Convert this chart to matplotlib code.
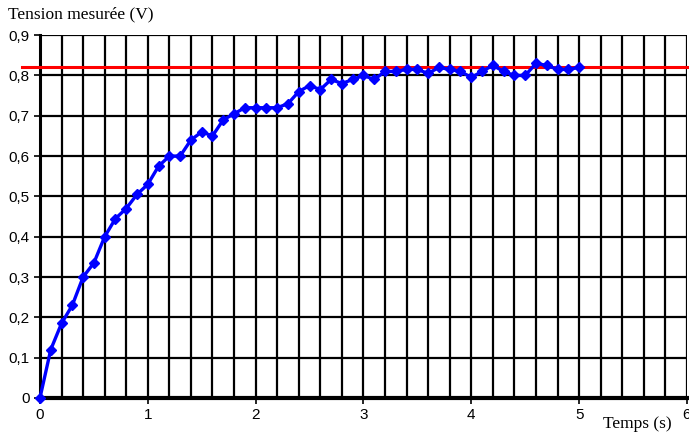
import numpy as np
import matplotlib.pyplot as plt
from matplotlib.ticker import MultipleLocator, FuncFormatter

# Mesures : tension en fonction du temps
temps = [0.0, 0.1, 0.2, 0.3, 0.4, 0.5, 0.6, 0.7, 0.8, 0.9,
         1.0, 1.1, 1.2, 1.3, 1.4, 1.5, 1.6, 1.7, 1.8, 1.9,
         2.0, 2.1, 2.2, 2.3, 2.4, 2.5, 2.6, 2.7, 2.8, 2.9,
         3.0, 3.1, 3.2, 3.3, 3.4, 3.5, 3.6, 3.7, 3.8, 3.9,
         4.0, 4.1, 4.2, 4.3, 4.4, 4.5, 4.6, 4.7, 4.8, 4.9, 5.0]
tension = [0.0, 0.12, 0.185, 0.23, 0.30, 0.335, 0.40, 0.445, 0.47, 0.505,
           0.53, 0.575, 0.60, 0.60, 0.64, 0.66, 0.65, 0.69, 0.705, 0.72,
           0.72, 0.72, 0.72, 0.73, 0.76, 0.775, 0.765, 0.79, 0.78, 0.79,
           0.80, 0.79, 0.81, 0.81, 0.815, 0.815, 0.805, 0.82, 0.815, 0.81,
           0.795, 0.81, 0.825, 0.81, 0.80, 0.80, 0.83, 0.825, 0.815, 0.815, 0.82]
tension_finale = 0.82

fig = plt.figure(figsize=(6.89, 4.34), dpi=100)
ax = fig.add_axes([0.058, 0.083, 0.939, 0.836])

ax.set_xlim(0, 6)
ax.set_ylim(0, 0.9)
ax.xaxis.set_major_locator(MultipleLocator(1))
ax.xaxis.set_minor_locator(MultipleLocator(0.2))
ax.yaxis.set_major_locator(MultipleLocator(0.1))

ax.grid(which='both', axis='x', color='black', linewidth=1.6)
ax.grid(which='major', axis='y', color='black', linewidth=1.6)
ax.set_axisbelow(True)

for s in ['top', 'right']:
    ax.spines[s].set_visible(False)
ax.spines['left'].set_linewidth(2.2)
ax.spines['bottom'].set_linewidth(3)

ax.tick_params(which='minor', length=0)
ax.tick_params(which='major', length=4, width=1.2, labelsize=11)
for lab in ax.get_xticklabels() + ax.get_yticklabels():
    lab.set_family('Liberation Sans')

ax.yaxis.set_major_formatter(FuncFormatter(
    lambda v, p: '0' if abs(v) < 1e-9 else ('%.1f' % v).replace('.', ',')))
ax.xaxis.set_major_formatter(FuncFormatter(lambda v, p: '%d' % round(v)))

ax.axhline(tension_finale, xmin=-0.028, xmax=1.01, color='red', linewidth=2.2,
           clip_on=False, zorder=3)

ax.plot(temps, tension, color='#0000ff', linewidth=2.4, marker='D', markersize=5.5,
        clip_on=False, zorder=4)

fig.text(0.012, 0.966, 'Tension mesurée (V)', family='Liberation Serif', fontsize=12.5,
         va='center', ha='left')
fig.text(0.875, 0.022, 'Temps (s)', family='Liberation Serif', fontsize=12.5,
         va='center', ha='left')

fig.savefig('out.png', dpi=100)
